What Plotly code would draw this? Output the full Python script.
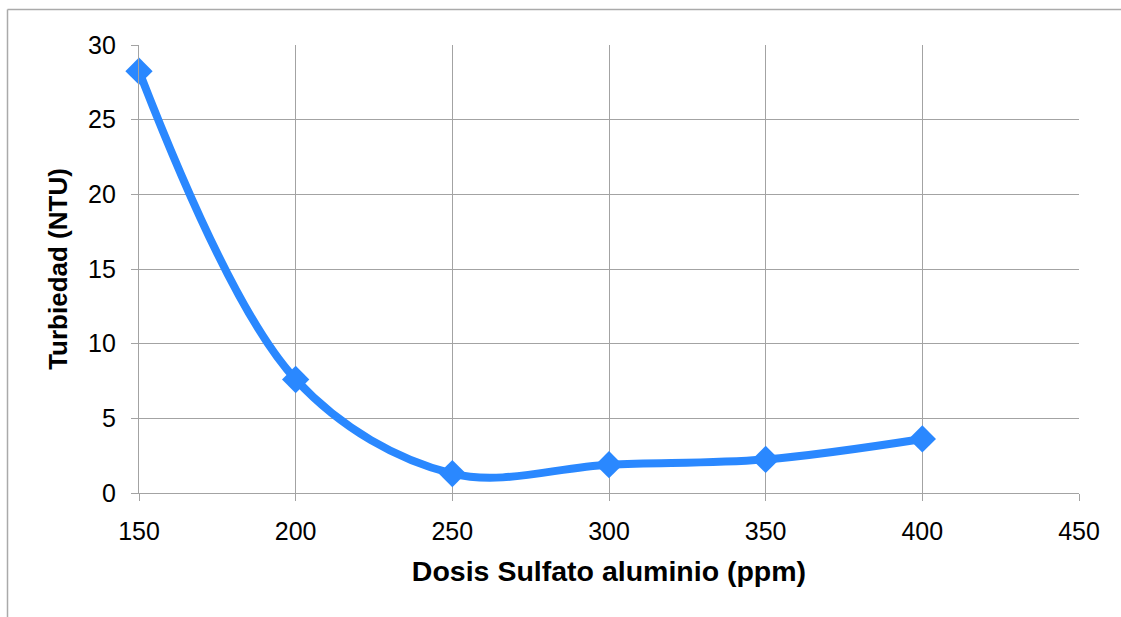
import plotly.graph_objects as go

dosis = [150, 200, 250, 300, 350, 400]
turbiedad = [28.25, 7.6, 1.3, 1.9, 2.25, 3.62]

x_ticks = [150, 200, 250, 300, 350, 400, 450]
y_ticks = [0, 5, 10, 15, 20, 25, 30]

blue = "#2A88FF"
grid = "#A3A3A3"
font_family = "Liberation Sans, Arial, sans-serif"

fig = go.Figure()
fig.add_trace(go.Scatter(
    x=dosis, y=turbiedad, mode="lines+markers",
    line=dict(color=blue, width=8, shape="spline", smoothing=1.0),
    marker=dict(symbol="diamond", size=21, color=blue),
    cliponaxis=False,
    showlegend=False, hoverinfo="x+y",
))

W, H = 1121, 617
L, R, T, B = 139, 42, 45, 124
pw, ph = W - L - R, H - T - B

def px_to_paper_x(px):
    return (px - L) / pw

def px_to_paper_y(py):
    return (H - B - py) / ph

frame = dict(color="#AAAAAA", width=1.5)
# top edge of outer frame
fig.add_shape(type="line", xref="paper", yref="paper",
              x0=px_to_paper_x(7.5), x1=px_to_paper_x(1200),
              y0=px_to_paper_y(9.5), y1=px_to_paper_y(9.5),
              line=frame, layer="below")
# left edge of outer frame
fig.add_shape(type="line", xref="paper", yref="paper",
              x0=px_to_paper_x(7.5), x1=px_to_paper_x(7.5),
              y0=px_to_paper_y(9.5), y1=px_to_paper_y(700),
              line=frame, layer="below")

fig.update_layout(
    width=W, height=H,
    margin=dict(l=L, r=R, t=T, b=B),
    paper_bgcolor="white", plot_bgcolor="white",
    font=dict(family=font_family, color="black"),
    xaxis=dict(
        range=[150, 450], tickvals=x_ticks, ticktext=[str(v) for v in x_ticks],
        showgrid=True, gridcolor=grid, gridwidth=1.4,
        showline=True, linecolor=grid, linewidth=1.4, mirror=False,
        ticks="outside", ticklen=7, tickcolor=grid, tickwidth=1.4,
        tickfont=dict(size=25), ticklabelstandoff=9,
        zeroline=False,
        title=dict(text="<b>Dosis Sulfato aluminio (ppm)</b>", font=dict(size=28.5), standoff=16),
    ),
    yaxis=dict(
        range=[0, 30], tickvals=y_ticks, ticktext=[str(v) for v in y_ticks],
        showgrid=True, gridcolor=grid, gridwidth=1.4,
        showline=True, linecolor=grid, linewidth=1.4,
        ticks="outside", ticklen=7, tickcolor=grid, tickwidth=1.4,
        tickfont=dict(size=25), ticklabelstandoff=10,
        zeroline=False,
        title=dict(text="<b>Turbiedad (NTU)</b>", font=dict(size=26), standoff=12),
    ),
)

fig.write_html("out.html")
